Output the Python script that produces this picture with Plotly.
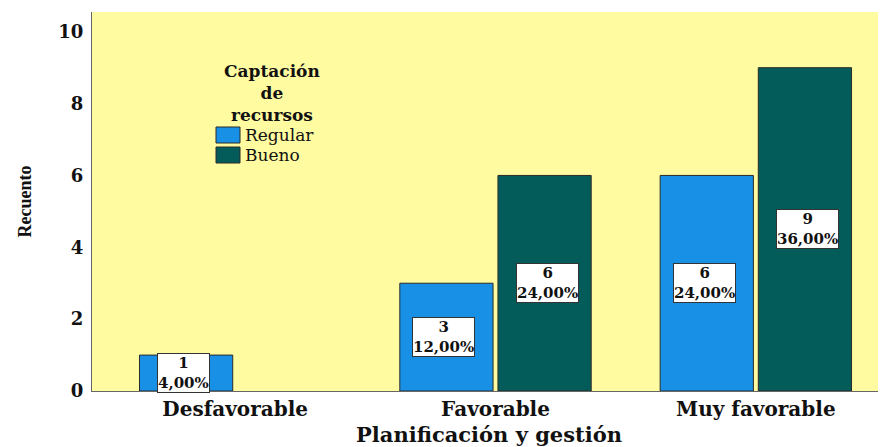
import plotly.graph_objects as go

# Datos del gráfico
categorias = ["Desfavorable", "Favorable", "Muy favorable"]
regular = [1, 3, 6]
bueno = [0, 6, 9]
regular_pct = ["4,00%", "12,00%", "24,00%"]
bueno_pct = ["", "24,00%", "36,00%"]
y_ticks = [0, 2, 4, 6, 8, 10]

color_regular = "#1790E6"
color_bueno = "#035C5A"
fondo = "#FFFBA0"
fuente = "DejaVu Serif"

x_idx = list(range(len(categorias)))

# El área de trazado va de x=92 a 886 y de y=12 a 391 (px de la ventana)
def px_x(p):
    return (p - 92) / 794

def px_y(p):
    return (391 - p) / 379

fig = go.Figure()
fig.add_trace(go.Bar(
    x=x_idx, y=[v if v else None for v in regular], name="Regular",
    marker=dict(color=color_regular, line=dict(color="#2a2a2a", width=1)),
))
fig.add_trace(go.Bar(
    x=x_idx, y=[v if v else None for v in bueno], name="Bueno",
    marker=dict(color=color_bueno, line=dict(color="#2a2a2a", width=1)),
))

# Etiquetas en cajas blancas, a media altura de cada barra
ancho_barra = 0.358
sep = 0.038
desp = (ancho_barra + sep) / 2
for i in x_idx:
    for valores, pcts, signo in ((regular, regular_pct, -1), (bueno, bueno_pct, 1)):
        if valores[i] == 0:
            continue
        fig.add_annotation(
            x=i + signo * desp, y=valores[i] / 2,
            text=f"<b>{valores[i]}<br>{pcts[i]}</b>",
            showarrow=False,
            font=dict(family=fuente, size=15, color="#111"),
            bgcolor="white", bordercolor="#333", borderwidth=1, borderpad=0,
        )

# Leyenda dibujada a mano para imitar el estilo SPSS
fig.add_annotation(
    x=px_x(272), y=px_y(93),
    xref="paper", yref="paper", xanchor="center", yanchor="middle",
    text="<b>Captación<br>de<br>recursos</b>",
    showarrow=False, align="center",
    font=dict(family=fuente, size=17, color="#111"),
)
for nombre, color, yc in (("Regular", color_regular, 135), ("Bueno", color_bueno, 155)):
    fig.add_shape(
        type="rect", xref="paper", yref="paper",
        x0=px_x(216), x1=px_x(240), y0=px_y(yc - 8), y1=px_y(yc + 8),
        fillcolor=color, line=dict(color="#2a2a2a", width=1),
    )
    fig.add_annotation(
        x=px_x(243), y=px_y(yc), xref="paper", yref="paper",
        xanchor="left", yanchor="middle", text=nombre, showarrow=False,
        font=dict(family=fuente, size=17, color="#111"),
    )

# la página html deja 8 px de margen, por eso 878x439
fig.update_layout(
    width=878, height=439,
    margin=dict(l=84, r=0, t=4, b=56, autoexpand=False),
    paper_bgcolor="white",
    plot_bgcolor=fondo,
    barmode="group",
    bargap=0.246,
    bargroupgap=0.05,
    showlegend=False,
    xaxis=dict(
        range=[-0.55, 2.5],
        tickvals=x_idx, ticktext=[f"<b>{c}</b>" for c in categorias],
        tickfont=dict(family=fuente, size=20, color="#111"),
        showgrid=False, zeroline=False,
        showline=True, linecolor="#666", linewidth=1,
        ticks="", automargin=False,
        title=dict(text="<b>Planificación y gestión</b>",
                   font=dict(family=fuente, size=21, color="#111"),
                   standoff=11),
    ),
    yaxis=dict(
        range=[0, 10.55],
        tickvals=y_ticks, ticktext=[f"<b>{v}</b>" for v in y_ticks],
        tickfont=dict(family=fuente, size=18, color="#111"),
        showgrid=False, zeroline=False,
        showline=True, linecolor="#666", linewidth=1,
        ticks="", ticklen=0, automargin=False,
        ticklabelstandoff=4,
        title=dict(text="<b>Recuento</b>",
                   font=dict(family="Liberation Serif", size=18, color="#111"),
                   standoff=22),
    ),
)

fig.write_html("out.html")
